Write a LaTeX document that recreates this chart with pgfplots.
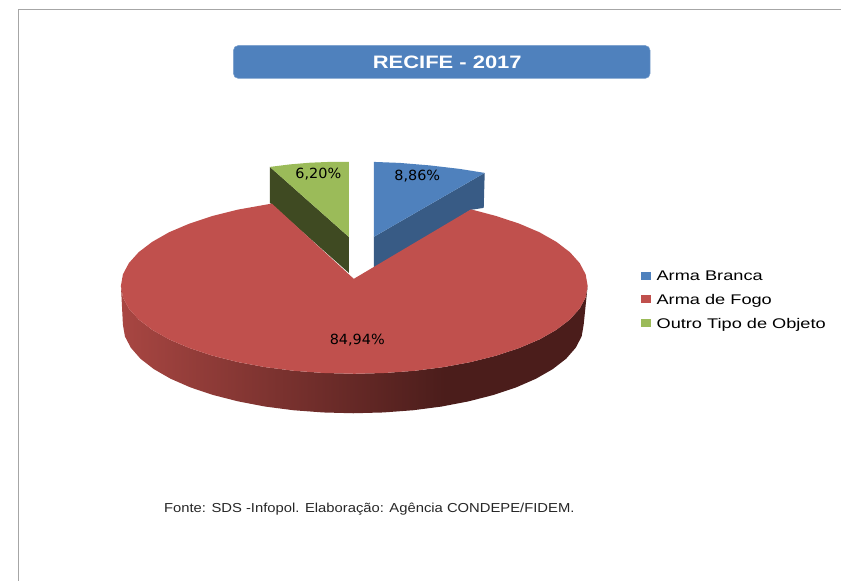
\documentclass[border=0pt]{standalone}
\usepackage{fontspec}
\setmainfont{Liberation Sans}
\newfontfamily\labelfont{DejaVu Sans}
\usepackage{pgfplots}
\pgfplotsset{compat=1.18}
\definecolor{cblue}{HTML}{4F81BD}
\definecolor{cblueside}{HTML}{385B85}
\definecolor{cred}{HTML}{C0504D}
\definecolor{cgreen}{HTML}{9BBB59}
\definecolor{cgreenside}{HTML}{3F4A22}
\definecolor{cframe}{HTML}{A6A6A6}
\definecolor{wallA}{RGB}{168,70,66}
\definecolor{wallB}{RGB}{75,29,27}
\pgfdeclarehorizontalshading{wallshade}{100bp}{color(0bp)=(wallA); color(25bp)=(wallA); color(59.7bp)=(wallB); color(100bp)=(wallB)}
\begin{document}
\begin{tikzpicture}
\begin{axis}[
  scale only axis, width=841pt, height=581pt,
  xmin=0, xmax=841, ymin=0, ymax=581, y dir=reverse,
  hide axis, clip=false,
  legend style={at={(axis cs:641,270.5)}, anchor=north west, draw=none, fill=none,
    font=\fontsize{14}{14}\selectfont, row sep=10pt, inner sep=0pt, outer sep=0pt,
    nodes={inner sep=1pt}},
  legend cell align=left,
  legend image code/.code={\fill[#1, draw=none] (2pt,-3pt) rectangle (12pt,5pt);},
]
% frame
\addplot[forget plot, cframe, line width=1pt] coordinates {(19,581) (19,9.5) (841,9.5)};
% blue slice
\addplot[forget plot, fill=cblueside, draw=none] coordinates {(374,237) (485,173) (484,208) (471,210) (374,270)} --cycle;
\addplot[forget plot, fill=cblue, draw=none] coordinates {(374,237) (374,162) (400,163) (430,165.5) (460,169) (485,173)} --cycle;
% green slice
\addplot[forget plot, fill=cgreenside, draw=none] coordinates {(270,167) (349,237) (349,273) (270,203)} --cycle;
\addplot[forget plot, fill=cgreen, draw=none] coordinates {(349,237) (349,162) (330,162) (310,162.8) (290,164.5) (270,167)} --cycle;
% red slice wall
\addplot[forget plot, shading=wallshade, draw=none] coordinates {
(588,286) (586,297.5) (580,308.8) (570.2,319.7) (556.7,330) (539.8,339.6) (519.6,348.2) (496.7,355.8) (471.3,362.2)
(443.9,367.3) (414.9,371) (385,373.2) (354.5,374) (324,373.2) (294.1,371) (265.1,367.3) (237.7,362.2) (212.3,355.8)
(189.4,348.2) (169.2,339.6) (152.3,330) (138.8,319.7) (129,308.8) (123,297.5) (121,286)
(123,325) (125,336.6) (130.9,347.9) (140.5,358.9) (153.9,369.3) (170.6,378.9) (190.5,387.6) (213.2,395.2) (238.2,401.6)
(265.3,406.8) (293.8,410.5) (323.4,412.7) (353.5,413.5) (383.6,412.7) (413.2,410.5) (441.7,406.8) (468.8,401.6)
(493.8,395.2) (516.5,387.6) (536.4,378.9) (553.1,369.3) (566.5,358.9) (576.1,347.9) (582,336.6) (584,325)
} --cycle;
% red slice top
\addplot[forget plot, fill=cred, draw=none] coordinates {
(354,279) (471.3,209.5) (496.7,216.2) (519.6,223.8) (539.8,232.4) (556.7,242) (570.2,252.3) (580,263.2) (586,274.5)
(588,286) (586,297.5) (580,308.8) (570.2,319.7) (556.7,330) (539.8,339.6) (519.6,348.2) (496.7,355.8) (471.3,362.2)
(443.9,367.3) (414.9,371) (385,373.2) (354.5,374) (324,373.2) (294.1,371) (265.1,367.3) (237.7,362.2) (212.3,355.8)
(189.4,348.2) (169.2,339.6) (152.3,330) (138.8,319.7) (129,308.8) (123,297.5) (121,286) (123,274.5) (129,263.2)
(138.8,252.3) (152.3,242) (169.2,232.4) (189.4,223.8) (212.3,216.2) (237.7,209.8) (272,203.7)
} --cycle;
% legend
\addlegendimage{fill=cblue}
\addlegendentry{\hspace{5pt}\scalebox{1.30}[1]{Arma Branca}}
\addlegendimage{fill=cred}
\addlegendentry{\hspace{5pt}\scalebox{1.30}[1]{Arma de Fogo}}
\addlegendimage{fill=cgreen}
\addlegendentry{\hspace{5pt}\scalebox{1.30}[1]{Outro Tipo de Objeto}}
% title
\node[fill=cblue, draw=cblue!75!white, line width=0.5pt, rounded corners=5pt, minimum width=417pt, minimum height=33pt, inner sep=0pt] at (axis cs:442,62) {};
\node[text=white, font=\fontsize{18}{18}\selectfont\bfseries, inner sep=0pt] at (axis cs:447.5,62.5) {\scalebox{1.22}[1]{RECIFE - 2017}};
% data labels
\node[font=\labelfont\fontsize{14}{14}\selectfont, inner sep=0pt] at (axis cs:417.5,176.5) {\scalebox{1.03}[1]{8,86\%}};
\node[font=\labelfont\fontsize{14}{14}\selectfont, inner sep=0pt] at (axis cs:318.5,174) {\scalebox{1.03}[1]{6,20\%}};
\node[font=\labelfont\fontsize{14}{14}\selectfont, inner sep=0pt] at (axis cs:357.5,340) {\scalebox{1.03}[1]{84,94\%}};
% source
\node[font=\fontsize{13}{13}\selectfont, inner sep=0pt, anchor=west, text=black!85] at (axis cs:164,509) {\scalebox{1.139}[1]{Fonte: SDS -Infopol. Elaboração: Agência CONDEPE/FIDEM.}};
\path (axis cs:0,0) rectangle (axis cs:841,581);
\end{axis}
\end{tikzpicture}
\end{document}
